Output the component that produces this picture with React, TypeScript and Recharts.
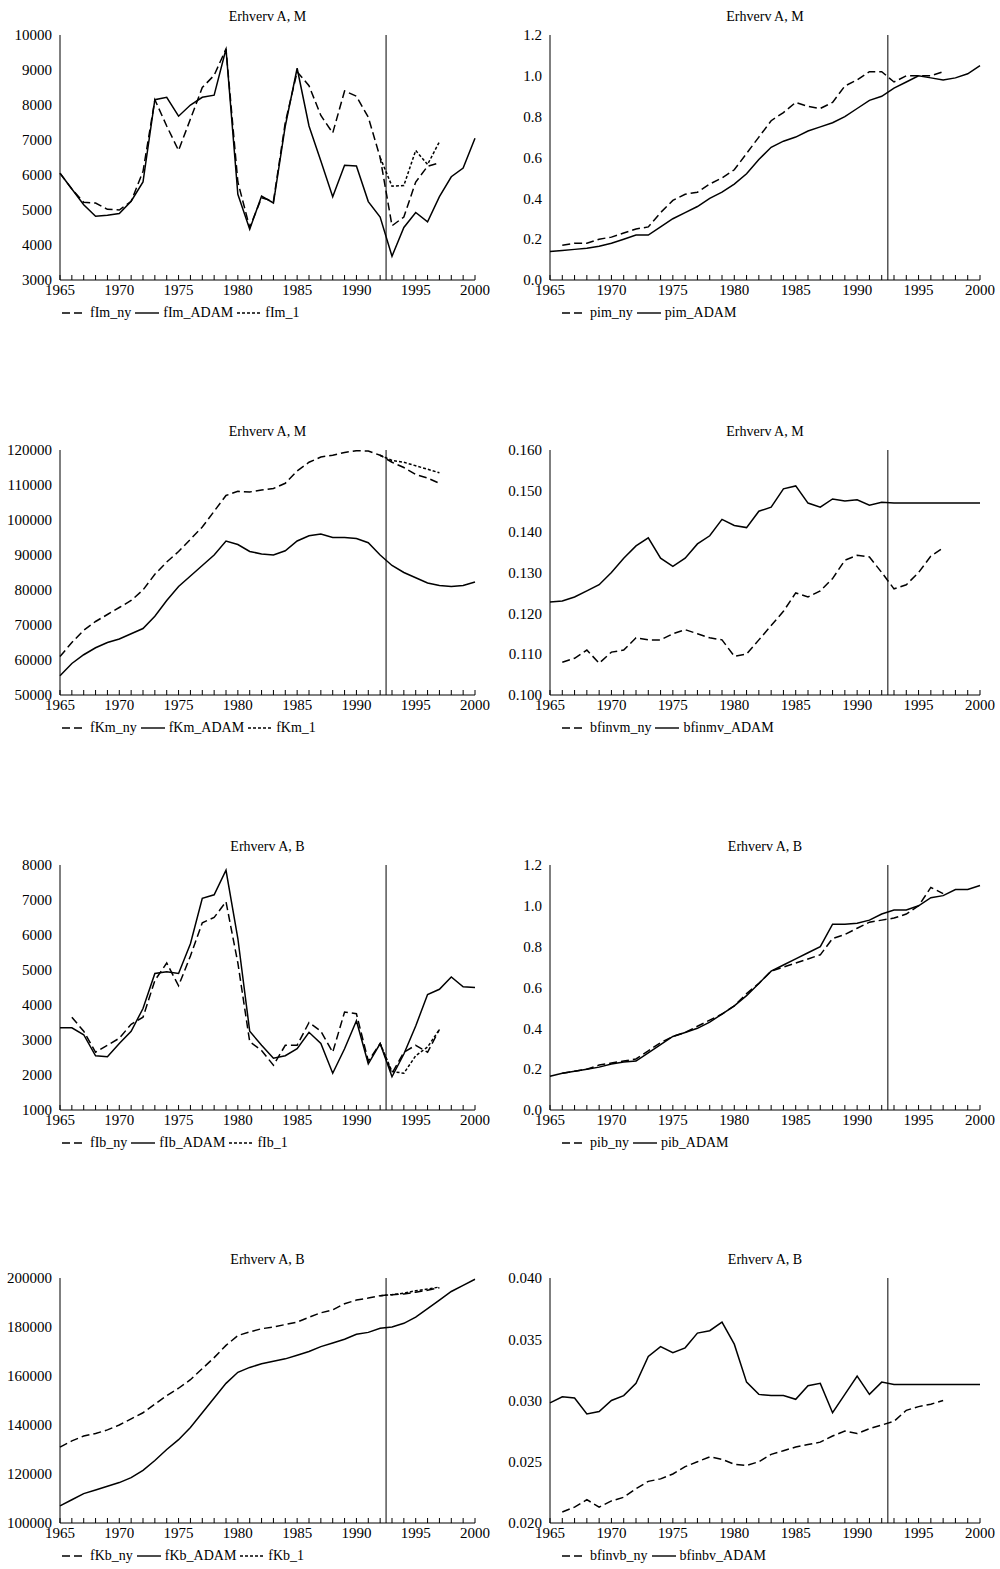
import * as React from "react";
import { LineChart, Line, XAxis, YAxis, ReferenceLine } from "recharts";

const YEARS = Array.from({ length: 36 }, (_, i) => 1965 + i);
const n = null;

// fIm
const fIm_ADAM = [6050, 5600, 5150, 4820, 4850, 4900, 5250, 5800, 8150, 8220, 7680, 8000, 8220, 8280, 9600, 5450, 4450, 5400, 5200, 7400, 9050, 7400, 6400, 5380, 6280, 6260, 5240, 4800, 3680, 4500, 4930, 4660, 5380, 5950, 6200, 7050];
const fIm_ny = [6050, 5600, 5220, 5200, 5020, 5000, 5250, 6100, 8150, 7400, 6700, 7600, 8500, 8850, 9600, 5800, 4500, 5350, 5250, 7500, 8950, 8550, 7700, 7200, 8400, 8250, 7650, 6500, 4550, 4800, 5800, 6250, 6350, n, n, n];
const fIm_1 = [n, n, n, n, n, n, n, n, n, n, n, n, n, n, n, n, n, n, n, n, n, n, n, n, n, n, n, 6500, 5680, 5700, 6700, 6300, 6950, n, n, n];
// pim
const pim_ADAM = [0.14, 0.145, 0.15, 0.155, 0.165, 0.18, 0.2, 0.22, 0.22, 0.26, 0.3, 0.33, 0.36, 0.4, 0.43, 0.47, 0.52, 0.59, 0.65, 0.68, 0.7, 0.73, 0.75, 0.77, 0.8, 0.84, 0.88, 0.9, 0.94, 0.97, 1.0, 0.99, 0.98, 0.99, 1.01, 1.05];
const pim_ny = [n, 0.17, 0.18, 0.18, 0.2, 0.21, 0.23, 0.25, 0.26, 0.33, 0.39, 0.42, 0.43, 0.47, 0.5, 0.54, 0.62, 0.7, 0.78, 0.82, 0.87, 0.85, 0.84, 0.87, 0.95, 0.98, 1.02, 1.02, 0.97, 1.0, 1.0, 1.0, 1.02, n, n, n];
// fKm
const fKm_ny = [61000, 65000, 68500, 71000, 73000, 75000, 77000, 80000, 84500, 88000, 91000, 94500, 98000, 102500, 107000, 108200, 108000, 108600, 109000, 110500, 114000, 116500, 118000, 118500, 119300, 119800, 119700, 118500, 116500, 115000, 113000, 112000, 110500, n, n, n];
const fKm_ADAM = [55500, 59000, 61500, 63500, 65000, 66000, 67500, 69000, 72500, 77000, 81000, 84000, 87000, 90000, 94000, 93000, 91000, 90300, 90000, 91200, 94000, 95500, 96000, 95000, 95000, 94700, 93500, 90000, 87000, 85000, 83500, 82000, 81300, 81000, 81300, 82300];
const fKm_1 = [n, n, n, n, n, n, n, n, n, n, n, n, n, n, n, n, n, n, n, n, n, n, n, n, n, n, n, 118500, 117000, 116500, 115500, 114500, 113500, n, n, n];
// bfinvm
const bfinvm_ny = [n, 0.108, 0.109, 0.111, 0.1078, 0.1105, 0.111, 0.114, 0.1135, 0.1135, 0.115, 0.116, 0.115, 0.114, 0.1135, 0.1095, 0.11, 0.1135, 0.117, 0.1205, 0.125, 0.124, 0.1255, 0.1285, 0.133, 0.1342, 0.1338, 0.13, 0.126, 0.127, 0.13, 0.134, 0.136, n, n, n];
const bfinmv_ADAM = [0.1228, 0.123, 0.124, 0.1255, 0.127, 0.13, 0.1335, 0.1365, 0.1385, 0.1335, 0.1315, 0.1335, 0.137, 0.139, 0.143, 0.1415, 0.141, 0.145, 0.146, 0.1505, 0.1512, 0.147, 0.146, 0.148, 0.1475, 0.1478, 0.1465, 0.1472, 0.147, 0.147, 0.147, 0.147, 0.147, 0.147, 0.147, 0.147];
// fIb
const fIb_ADAM = [3350, 3350, 3150, 2550, 2520, 2900, 3250, 3900, 4900, 4950, 4900, 5750, 7050, 7150, 7850, 5900, 3250, 2850, 2480, 2550, 2750, 3220, 2900, 2050, 2750, 3550, 2320, 2900, 1950, 2600, 3400, 4300, 4450, 4800, 4520, 4500];
const fIb_ny = [n, 3650, 3250, 2650, 2850, 3050, 3450, 3650, 4700, 5200, 4550, 5400, 6350, 6500, 6950, 5200, 2950, 2700, 2280, 2850, 2850, 3500, 3250, 2650, 3800, 3750, 2400, 2900, 2050, 2650, 2850, 2650, 3300, n, n, n];
const fIb_1 = [n, n, n, n, n, n, n, n, n, n, n, n, n, n, n, n, n, n, n, n, n, n, n, n, n, n, n, 2900, 2100, 2050, 2550, 2800, 3300, n, n, n];
// pib
const pib_ADAM = [0.165, 0.18, 0.19, 0.2, 0.21, 0.225, 0.235, 0.24, 0.28, 0.32, 0.36, 0.38, 0.4, 0.43, 0.47, 0.51, 0.56, 0.62, 0.68, 0.71, 0.74, 0.77, 0.8, 0.91, 0.91, 0.915, 0.93, 0.96, 0.98, 0.98, 1.0, 1.04, 1.05, 1.08, 1.08, 1.1];
const pib_ny = [n, 0.18, 0.19, 0.2, 0.22, 0.23, 0.24, 0.25, 0.29, 0.33, 0.36, 0.38, 0.41, 0.44, 0.47, 0.51, 0.57, 0.62, 0.68, 0.7, 0.72, 0.74, 0.76, 0.84, 0.86, 0.89, 0.92, 0.93, 0.94, 0.96, 1.0, 1.09, 1.06, n, n, n];
// fKb
const fKb_ny = [131000, 133500, 135500, 136500, 138000, 140000, 142500, 145000, 148500, 152000, 155000, 158500, 163000, 167500, 172500, 176500, 178000, 179300, 180000, 181000, 182000, 184000, 185800, 187000, 189500, 191000, 191800, 192800, 193200, 193500, 194200, 195000, 196000, n, n, n];
const fKb_ADAM = [107000, 109500, 112000, 113500, 115000, 116500, 118500, 121500, 125500, 130000, 134000, 139000, 145000, 151000, 157000, 161500, 163500, 165000, 166000, 167000, 168500, 170000, 172000, 173500, 175000, 177000, 177800, 179500, 180000, 181500, 184000, 187500, 191000, 194500, 197000, 199500];
const fKb_1 = [n, n, n, n, n, n, n, n, n, n, n, n, n, n, n, n, n, n, n, n, n, n, n, n, n, n, n, 192800, 193200, 193800, 194800, 195500, 196300, n, n, n];
// bfinvb
const bfinvb_ny = [n, 0.0209, 0.0213, 0.0219, 0.0213, 0.0218, 0.0221, 0.0228, 0.0234, 0.0236, 0.024, 0.0246, 0.025, 0.0254, 0.0252, 0.0248, 0.0247, 0.025, 0.0256, 0.0259, 0.0262, 0.0264, 0.0266, 0.0271, 0.0275, 0.0273, 0.0277, 0.028, 0.0283, 0.0292, 0.0295, 0.0297, 0.03, n, n, n];
const bfinbv_ADAM = [0.0298, 0.0303, 0.0302, 0.0289, 0.0291, 0.03, 0.0304, 0.0314, 0.0336, 0.0344, 0.0339, 0.0343, 0.0355, 0.0357, 0.0364, 0.0346, 0.0315, 0.0305, 0.0304, 0.0304, 0.0301, 0.0312, 0.0314, 0.029, 0.0305, 0.032, 0.0305, 0.0315, 0.0313, 0.0313, 0.0313, 0.0313, 0.0313, 0.0313, 0.0313, 0.0313];

const FONT = "'Liberation Serif', 'DejaVu Serif', serif";
const DASH: Record<string, string | undefined> = { ny: "8 4", ADAM: undefined, one: "3 2" };

type S = { name: string; data: (number | null)[]; kind: "ny" | "ADAM" | "one" };
type P = { title: string; series: S[]; domain: [number, number]; step: number; dec: number; left: number; top: number; yw: number; right: number };

const range = (a: number, b: number, s: number) => {
  const out: number[] = [];
  for (let v = a; v <= b + s / 1000; v += s) out.push(Math.round(v * 1e6) / 1e6);
  return out;
};

const PANELS: P[] = [
  { title: "Erhverv A, M", domain: [3000, 10000], step: 1000, dec: 0, left: 0, top: 0, yw: 55, right: 25,
    series: [{ name: "fIm_ny", data: fIm_ny, kind: "ny" }, { name: "fIm_ADAM", data: fIm_ADAM, kind: "ADAM" }, { name: "fIm_1", data: fIm_1, kind: "one" }] },
  { title: "Erhverv A, M", domain: [0, 1.2], step: 0.2, dec: 1, left: 500, top: 0, yw: 45, right: 20,
    series: [{ name: "pim_ny", data: pim_ny, kind: "ny" }, { name: "pim_ADAM", data: pim_ADAM, kind: "ADAM" }] },
  { title: "Erhverv A, M", domain: [50000, 120000], step: 10000, dec: 0, left: 0, top: 415, yw: 55, right: 25,
    series: [{ name: "fKm_ny", data: fKm_ny, kind: "ny" }, { name: "fKm_ADAM", data: fKm_ADAM, kind: "ADAM" }, { name: "fKm_1", data: fKm_1, kind: "one" }] },
  { title: "Erhverv A, M", domain: [0.1, 0.16], step: 0.01, dec: 3, left: 500, top: 415, yw: 45, right: 20,
    series: [{ name: "bfinvm_ny", data: bfinvm_ny, kind: "ny" }, { name: "bfinmv_ADAM", data: bfinmv_ADAM, kind: "ADAM" }] },
  { title: "Erhverv A, B", domain: [1000, 8000], step: 1000, dec: 0, left: 0, top: 830, yw: 55, right: 25,
    series: [{ name: "fIb_ny", data: fIb_ny, kind: "ny" }, { name: "fIb_ADAM", data: fIb_ADAM, kind: "ADAM" }, { name: "fIb_1", data: fIb_1, kind: "one" }] },
  { title: "Erhverv A, B", domain: [0, 1.2], step: 0.2, dec: 1, left: 500, top: 830, yw: 45, right: 20,
    series: [{ name: "pib_ny", data: pib_ny, kind: "ny" }, { name: "pib_ADAM", data: pib_ADAM, kind: "ADAM" }] },
  { title: "Erhverv A, B", domain: [100000, 200000], step: 20000, dec: 0, left: 0, top: 1243, yw: 55, right: 25,
    series: [{ name: "fKb_ny", data: fKb_ny, kind: "ny" }, { name: "fKb_ADAM", data: fKb_ADAM, kind: "ADAM" }, { name: "fKb_1", data: fKb_1, kind: "one" }] },
  { title: "Erhverv A, B", domain: [0.02, 0.04], step: 0.005, dec: 3, left: 500, top: 1243, yw: 45, right: 20,
    series: [{ name: "bfinvb_ny", data: bfinvb_ny, kind: "ny" }, { name: "bfinbv_ADAM", data: bfinbv_ADAM, kind: "ADAM" }] },
];

const XTick = (props: any) => {
  const { x, y, payload } = props;
  const v = payload.value;
  return (
    <g>
      <line x1={x} x2={x} y1={y} y2={y - 5} stroke="#000" />
      {v % 5 === 0 && (
        <text x={x} y={y + 15} textAnchor="middle" fontSize={15} fontFamily={FONT} fill="#000">{v}</text>
      )}
    </g>
  );
};

function Panel({ p }: { p: P }) {
  const data = YEARS.map((yr, i) => {
    const row: Record<string, number | null> = { year: yr };
    p.series.forEach((s) => (row[s.name] = s.data[i]));
    return row;
  });
  const W = 500;
  const H = 300;
  return (
    <div style={{ position: "absolute", left: p.left, top: p.top, width: W, height: 330 }}>
      <div style={{ position: "absolute", left: p.yw + 5, width: W - p.yw - 5 - p.right, top: 9, textAlign: "center", fontFamily: FONT, fontSize: 14 }}>
        {p.title}
      </div>
      <LineChart width={W} height={H} data={data} margin={{ top: 35, right: p.right, left: 5, bottom: 0 }}>
        <XAxis dataKey="year" type="number" domain={[1965, 2000]} ticks={YEARS} interval={0}
          tick={<XTick />} tickLine={false} tickSize={0} tickMargin={0} height={20}
          axisLine={{ stroke: "#000" }} />
        <YAxis domain={p.domain} ticks={range(p.domain[0], p.domain[1], p.step)} width={p.yw}
          tickFormatter={(v: number) => v.toFixed(p.dec)} tickLine={false} tickMargin={2}
          axisLine={{ stroke: "#000" }} interval={0}
          tick={{ fill: "#000", fontSize: 15, fontFamily: FONT }} allowDataOverflow />
        <ReferenceLine x={1992.5} stroke="#000" strokeWidth={1} />
        {p.series.map((s) => (
          <Line key={s.name} dataKey={s.name} stroke="#000" strokeWidth={1.5}
            strokeDasharray={DASH[s.kind]} dot={false} isAnimationActive={false} connectNulls={false} />
        ))}
      </LineChart>
      <div style={{ position: "absolute", left: 60, top: 305, display: "flex", alignItems: "center", fontFamily: FONT, fontSize: 14 }}>
        {p.series.map((s) => (
          <span key={s.name} style={{ display: "inline-flex", alignItems: "center", marginRight: 2 }}>
            <svg width={28} height={10}>
              <line x1={2} x2={26} y1={5} y2={5} stroke="#000" strokeWidth={1.4} strokeDasharray={DASH[s.kind]} />
            </svg>
            <span style={{ marginLeft: 2 }}>{s.name}</span>
          </span>
        ))}
      </div>
    </div>
  );
}

export default function App() {
  return (
    <div style={{ position: "absolute", left: 0, top: 0, width: 1000, height: 1569, background: "#fff" }}>
      {PANELS.map((p, i) => <Panel key={i} p={p} />)}
    </div>
  );
}
